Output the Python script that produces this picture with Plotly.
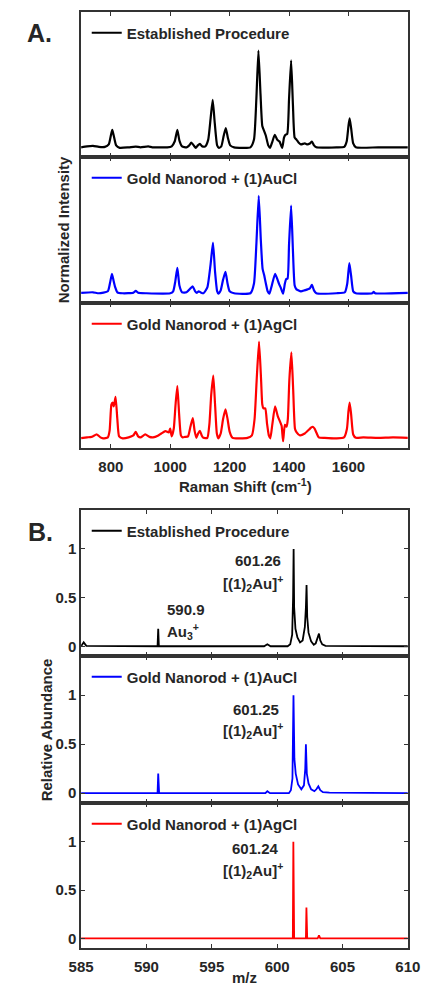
import plotly.graph_objects as go

# ---------------- Data: Raman spectra (panel A) ----------------
raman_black_x = [700, 720, 740, 760, 780, 793, 800, 805, 810, 818, 830, 860, 884, 900, 926, 940, 990,
                 1005, 1015, 1024, 1031, 1040, 1055, 1064, 1071, 1079, 1086, 1093, 1100, 1108, 1118,
                 1128, 1136, 1143, 1150, 1158, 1164, 1172, 1180, 1187, 1194, 1202, 1215, 1270, 1282,
                 1290, 1297, 1304, 1310, 1316, 1322, 1330, 1336, 1344, 1352, 1360, 1368, 1377, 1383,
                 1388, 1394, 1400, 1407, 1413, 1419, 1425, 1432, 1440, 1453, 1462, 1470, 1477, 1484,
                 1492, 1560, 1586, 1594, 1600, 1604, 1609, 1616, 1625, 1700, 1800]
raman_black_y = [0.0, 0.01, 0.015, 0.005, 0.005, 0.03, 0.12, 0.18, 0.12, 0.02, -0.005, 0.0, 0.008, 0.0,
                 0.01, 0.0, 0.0, 0.01, 0.06, 0.18, 0.07, 0.01, 0.0, 0.02, 0.05, 0.02, -0.005, 0.02,
                 0.035, 0.01, 0.01, 0.08, 0.3, 0.49, 0.25, 0.02, -0.005, 0.01, 0.12, 0.2, 0.1, 0.02,
                 0.0, 0.0, 0.08, 0.5, 1.0, 0.55, 0.22, 0.17, 0.12, 0.02, -0.005, 0.06, 0.13, 0.08,
                 0.06, -0.005, 0.1, 0.13, 0.14, 0.5, 0.9, 0.45, 0.1, 0.08, 0.05, 0.03, 0.04, 0.03,
                 0.04, 0.06, 0.02, 0.0, 0.0, 0.005, 0.06, 0.22, 0.3, 0.2, 0.04, 0.0, 0.0, 0.0]

raman_blue_x = [700, 740, 760, 790, 797, 804, 810, 815, 822, 840, 876, 884, 892, 920, 1000, 1010, 1017,
                1024, 1031, 1040, 1055, 1068, 1076, 1084, 1090, 1096, 1102, 1112, 1125, 1136, 1144,
                1151, 1158, 1162, 1170, 1178, 1186, 1193, 1200, 1215, 1270, 1282, 1290, 1298, 1305,
                1311, 1316, 1322, 1328, 1334, 1342, 1353, 1360, 1366, 1373, 1380, 1386, 1390, 1395,
                1400, 1407, 1413, 1419, 1425, 1440, 1452, 1462, 1470, 1477, 1484, 1492, 1560, 1588,
                1596, 1603, 1609, 1616, 1625, 1680, 1685, 1690, 1800]
raman_blue_y = [0.005, 0.01, 0.0, 0.02, 0.1, 0.2, 0.12, 0.06, 0.01, 0.0, 0.005, 0.025, 0.005, 0.0, 0.0,
                0.02, 0.12, 0.26, 0.08, 0.01, 0.01, 0.05, 0.07, 0.02, 0.005, 0.02, 0.01, 0.0, 0.06,
                0.3, 0.52, 0.22, 0.02, -0.005, 0.03, 0.14, 0.22, 0.1, 0.02, 0.0, 0.0, 0.1, 0.5, 1.0,
                0.55, 0.25, 0.19, 0.1, 0.02, -0.005, 0.08, 0.2, 0.15, 0.1, 0.05, -0.005, 0.1, 0.145,
                0.15, 0.5, 0.9, 0.45, 0.08, 0.04, 0.02, 0.03, 0.04, 0.05, 0.086, 0.03, 0.0, 0.0, 0.01,
                0.1, 0.31, 0.18, 0.02, 0.0, 0.0, 0.014, 0.0, 0.005]

raman_red_x = [700, 720, 735, 753, 765, 774, 790, 796, 802, 806, 810, 816, 822, 828, 840, 860, 876, 884,
               892, 900, 916, 930, 942, 960, 970, 984, 995, 1000, 1005, 1012, 1018, 1024, 1030, 1036,
               1042, 1050, 1060, 1068, 1076, 1082, 1088, 1094, 1100, 1106, 1112, 1125, 1132, 1138,
               1145, 1151, 1157, 1162, 1170, 1178, 1186, 1193, 1200, 1210, 1260, 1275, 1284, 1291,
               1299, 1306, 1310, 1314, 1320, 1326, 1332, 1337, 1344, 1353, 1362, 1370, 1375, 1380,
               1386, 1392, 1396, 1401, 1408, 1414, 1420, 1425, 1437, 1453, 1469, 1474, 1480, 1486,
               1492, 1500, 1520, 1560, 1585, 1595, 1600, 1604, 1609, 1616, 1625, 1650, 1700, 1750, 1800]
raman_red_y = [0.003, 0.01, 0.015, 0.04, 0.01, 0.0, 0.01, 0.08, 0.35, 0.37, 0.33, 0.43, 0.2, 0.02, 0.0,
               0.01, 0.03, 0.067, 0.02, 0.01, 0.04, 0.015, 0.01, 0.03, 0.05, 0.075, 0.06, 0.1, 0.02,
               0.1, 0.35, 0.54, 0.25, 0.03, 0.01, 0.015, 0.02, 0.12, 0.21, 0.08, 0.005, 0.05, 0.077,
               0.03, 0.005, 0.005, 0.15, 0.45, 0.65, 0.35, 0.05, 0.0, 0.05, 0.2, 0.3, 0.2, 0.07,
               0.005, 0.005, 0.03, 0.2, 0.6, 1.0, 0.6, 0.35, 0.31, 0.31, 0.15, 0.03, 0.0, 0.15, 0.33,
               0.23, 0.17, 0.13, -0.03, 0.14, 0.12, 0.2, 0.6, 0.89, 0.5, 0.1, 0.065, 0.03, 0.05,
               0.095, 0.11, 0.12, 0.1, 0.06, 0.01, 0.005, 0.0, 0.01, 0.1, 0.28, 0.37, 0.25, 0.04,
               0.005, 0.01, 0.005, 0.01, 0.005]

# ---------------- Data: mass spectra (panel B) ----------------
ms_black_x = [585.0, 585.2, 585.4, 590.0, 590.85, 590.9, 590.95, 599.0, 599.25, 599.5, 600.8, 601.0,
              601.15, 601.22, 601.26, 601.3, 601.4, 601.55, 601.75, 601.95, 602.12, 602.2, 602.25,
              602.3, 602.4, 602.6, 602.8, 602.95, 603.1, 603.2, 603.3, 603.45, 603.7, 604.0, 610.0]
ms_black_y = [0.0, 0.04, 0.005, 0.0, 0.0, 0.18, 0.0, 0.0, 0.02, 0.0, 0.0, 0.02, 0.12, 0.5, 1.0, 0.4,
              0.18, 0.09, 0.04, 0.06, 0.2, 0.4, 0.63, 0.3, 0.14, 0.05, 0.015, 0.03, 0.08, 0.13,
              0.06, 0.02, 0.005, 0.005, 0.0]

ms_blue_x = [585.0, 590.85, 590.9, 590.97, 599.1, 599.25, 599.45, 600.9, 601.05, 601.17, 601.25,
             601.32, 601.42, 601.6, 601.85, 602.05, 602.15, 602.2, 602.27, 602.4, 602.6, 602.85,
             603.0, 603.15, 603.3, 603.5, 604.0, 610.0]
ms_blue_y = [0.0, 0.0, 0.2, 0.0, 0.0, 0.02, 0.0, 0.0, 0.03, 0.15, 1.0, 0.35, 0.2, 0.09, 0.04, 0.08,
             0.25, 0.5, 0.2, 0.1, 0.04, 0.02, 0.04, 0.07, 0.03, 0.01, 0.005, 0.0]

ms_red_x = [585.0, 601.2, 601.24, 601.3, 602.2, 602.24, 602.3, 603.1, 603.2, 603.3, 610.0]
ms_red_y = [0.0, 0.0, 1.0, 0.0, 0.0, 0.32, 0.0, 0.0, 0.03, 0.0, 0.0]

series_names = ["Established Procedure", "Gold Nanorod + (1)AuCl", "Gold Nanorod + (1)AgCl"]
series_colors = ["#000000", "#0000ff", "#ff0000"]

raman_ticks = [800, 1000, 1200, 1400, 1600]
ms_ticks = [585, 590, 595, 600, 605, 610]
ms_yticks = [0, 0.5, 1]
ms_ytick_labels = ["0", "0.5", "1"]

peak_labels = ["601.26", "601.25", "601.24"]
ion_label = "[(1)<sub>2</sub>Au]<sup>+</sup>"

# ---------------- Layout helpers ----------------
# The page body has an 8px default margin, so the figure is drawn 8px smaller
# and every reference pixel position is shifted by 8px.
OFF = 8
W, H = 434 - OFF, 986 - OFF
FONT = "Liberation Sans, Arial, sans-serif"
TXT = "#262626"
AX = "#333333"
FS = 15


def py(p):
    return 1 - (p - OFF) / H


def px(p):
    return (p - OFF) / W


x_dom = [px(72), px(420)]
panel_px = [(12, 157), (157, 303), (303, 448), (510, 656), (656, 803), (803, 948)]

fig = go.Figure()

raman_sets = [(raman_black_x, raman_black_y), (raman_blue_x, raman_blue_y), (raman_red_x, raman_red_y)]
ms_sets = [(ms_black_x, ms_black_y), (ms_blue_x, ms_blue_y), (ms_red_x, ms_red_y)]

legend_ids = ["legend", "legend2", "legend3", "legend4", "legend5", "legend6"]

for i, (xs, ys) in enumerate(raman_sets):
    k = i + 1
    fig.add_trace(go.Scatter(x=xs, y=ys, mode="lines", name=series_names[i],
                             line=dict(color=series_colors[i], width=2.2, shape="spline", smoothing=0.5),
                             xaxis=f"x{k if k > 1 else ''}", yaxis=f"y{k if k > 1 else ''}",
                             legend=legend_ids[i], showlegend=True))
for i, (xs, ys) in enumerate(ms_sets):
    k = i + 4
    fig.add_trace(go.Scatter(x=xs, y=ys, mode="lines", name=series_names[i],
                             line=dict(color=series_colors[i], width=1.8),
                             xaxis=f"x{k}", yaxis=f"y{k}",
                             legend=legend_ids[i + 3], showlegend=True))

layout = dict(width=W, height=H, margin=dict(l=0, r=0, t=0, b=0),
              paper_bgcolor="white", plot_bgcolor="white", showlegend=True,
              font=dict(family=FONT, color=TXT, size=FS, weight="bold"))

for k in range(1, 7):
    top, bot = panel_px[k - 1]
    suffix = "" if k == 1 else str(k)
    is_raman = k <= 3
    show_x_labels = k in (3, 6)
    xa = dict(domain=x_dom, anchor=f"y{suffix}", showline=True, linecolor=AX, linewidth=1.5,
              mirror="allticks", ticks="inside", ticklen=4, tickwidth=1.2, tickcolor=AX,
              showgrid=False, zeroline=False, showticklabels=show_x_labels, ticklabelstandoff=4,
              tickfont=dict(family=FONT, size=FS, color=TXT, weight="bold"))
    ya = dict(domain=[py(bot), py(top)], anchor=f"x{suffix}", showline=True, linecolor=AX,
              linewidth=1.5, mirror=True, showgrid=False, zeroline=False, range=[-0.1, 1.4])
    if is_raman:
        xa.update(range=[700, 1800], tickvals=raman_ticks)
        ya.update(ticks="", showticklabels=False)
    else:
        xa.update(range=[585, 610], tickvals=ms_ticks)
        ya.update(ticks="inside", mirror="allticks", ticklen=4, tickwidth=1.2, tickcolor=AX,
                  tickvals=ms_yticks, ticktext=ms_ytick_labels,
                  tickfont=dict(family=FONT, size=FS, color=TXT, weight="bold"))
    layout[f"xaxis{suffix}"] = xa
    layout[f"yaxis{suffix}"] = ya

    # legend inside the panel, top-left
    layout[legend_ids[k - 1]] = dict(x=px(78), y=py(top + 21), xanchor="left", yanchor="middle",
                                     bgcolor="rgba(0,0,0,0)", borderwidth=0,
                                     font=dict(family=FONT, size=FS, color=TXT, weight="bold"))

fig.update_layout(**layout)

annotations = [
    dict(text="A.", x=px(12), y=py(33), xanchor="left", yanchor="middle", font=dict(size=25)),
    dict(text="B.", x=px(13), y=py(532), xanchor="left", yanchor="middle", font=dict(size=25)),
    dict(text="Normalized Intensity", x=px(53), y=py(230), textangle=-90, xanchor="center",
         yanchor="middle", font=dict(size=FS)),
    dict(text="Relative Abundance", x=px(35), y=py(730), textangle=-90, xanchor="center",
         yanchor="middle", font=dict(size=FS)),
    dict(text="Raman Shift (cm<sup>-1</sup>)", x=px(247), y=py(485), xanchor="center",
         yanchor="middle", font=dict(size=FS)),
    dict(text="m/z", x=px(246), y=py(977), xanchor="center", yanchor="middle", font=dict(size=FS)),
]
for a in annotations:
    a.update(xref="paper", yref="paper", showarrow=False)

# peak labels in data coordinates
data_ann = [
    ("x4", "y4", peak_labels[0], 598.5, 0.88, "center"),
    ("x4", "y4", ion_label, 598.15, 0.64, "center"),
    ("x4", "y4", "590.9", 593.0, 0.38, "center"),
    ("x4", "y4", "Au<sub>3</sub><sup>+</sup>", 591.45, 0.15, "left"),
    ("x5", "y5", peak_labels[1], 598.36, 0.85, "center"),
    ("x5", "y5", ion_label, 598.15, 0.64, "center"),
    ("x6", "y6", peak_labels[2], 598.36, 0.93, "center"),
    ("x6", "y6", ion_label, 598.15, 0.70, "center"),
]
for xr, yr, t, xv, yv, anc in data_ann:
    annotations.append(dict(text=t, x=xv, y=yv, xref=xr, yref=yr, showarrow=False,
                            xanchor=anc, yanchor="middle", font=dict(size=FS)))

fig.update_layout(annotations=annotations)
fig.write_html("out.html")
